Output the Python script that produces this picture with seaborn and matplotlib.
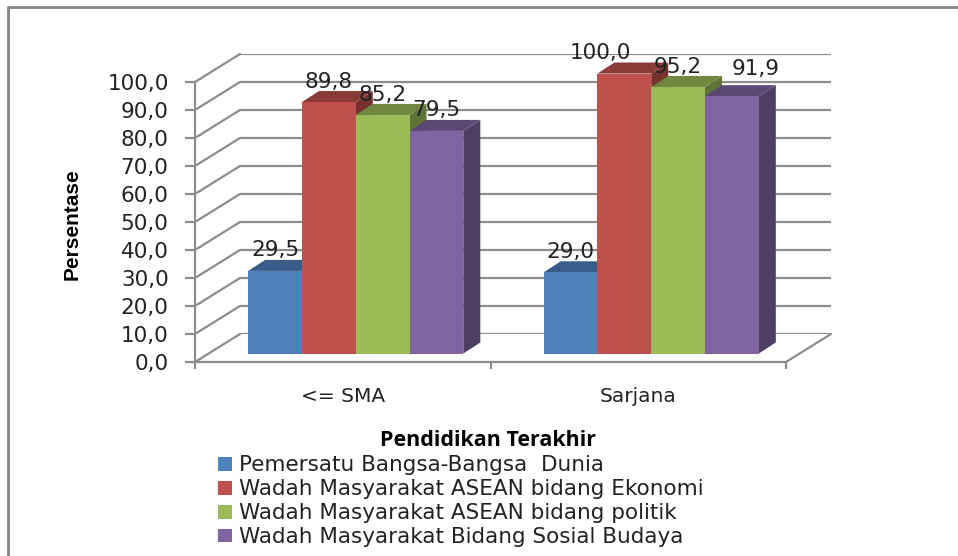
# Persepsi ASEAN menurut pendidikan terakhir - grouped bars with a 3D look

import pandas as pd
import seaborn as sns
import matplotlib.pyplot as plt
from matplotlib.colors import to_rgb
from matplotlib.lines import Line2D
from matplotlib.patches import Polygon

categories = ["<= SMA", "Sarjana"]
series = [
    "Pemersatu Bangsa-Bangsa  Dunia",
    "Wadah Masyarakat ASEAN bidang Ekonomi",
    "Wadah Masyarakat ASEAN bidang politik",
    "Wadah Masyarakat Bidang Sosial Budaya",
]
sma_values = [29.5, 89.8, 85.2, 79.5]
sarjana_values = [29.0, 100.0, 95.2, 91.9]
y_ticks = [0, 10, 20, 30, 40, 50, 60, 70, 80, 90, 100]
colors = ["#4F81BD", "#C0504D", "#9BBB59", "#8064A2"]

GREY = "#8C8C8C"
W, H = 958, 556

rows = []
for cat, vals in zip(categories, [sma_values, sarjana_values]):
    for name, v in zip(series, vals):
        rows.append({"pendidikan": cat, "kelompok": name, "persen": v})
df = pd.DataFrame(rows)

sns.set_style("white")
plt.rcParams["font.family"] = ["DejaVu Sans"]

fig = plt.figure(figsize=(W / 100, H / 100), dpi=100, facecolor="white")


def plane(shift_x, shift_y):
    # same sized axes moved back along the depth of the chart
    a = fig.add_axes([(195 + shift_x) / W, (H - 362 + shift_y) / H, 591 / W, 280 / H])
    a.set_xlim(-0.5, 1.5)
    a.set_ylim(0, 100)
    a.patch.set_alpha(0)
    return a


wall = plane(45, 28)
ax = plane(0, 0)
bars = plane(13, 8.5)

# back wall
wall.set_yticks(y_ticks)
wall.set_xticks([])
wall.tick_params(left=False, labelleft=False)
wall.grid(axis="y", color=GREY, linewidth=1.6)
wall.grid(axis="x", visible=False)
sns.despine(ax=wall, left=True, bottom=True)

# front axes with ticks
ax.set_xticks([-0.5, 0.5, 1.5], labels=["", "", ""])
ax.set_xticks([0, 1], labels=categories, minor=True)
ax.set_yticks(y_ticks, labels=[f"{t:.1f}".replace(".", ",") for t in y_ticks])
ax.tick_params(axis="y", length=7, width=1.6, color=GREY, pad=12, labelsize=15.5, labelcolor="#222222", left=True)
ax.tick_params(axis="x", which="major", length=5, width=1.6, color=GREY, bottom=True)
ax.tick_params(axis="x", which="minor", length=0, pad=18, labelsize=14.5, labelcolor="#222222")
sns.despine(ax=ax)
for s in ["left", "bottom"]:
    ax.spines[s].set_color(GREY)
    ax.spines[s].set_linewidth(1.6)
ax.set_ylabel("Persentase", fontsize=15, family="Liberation Sans", fontweight="bold", color="black")
ax.yaxis.set_label_coords((82 - 195) / 591, (362 - 224) / 280, transform=ax.transAxes)
ax.set_xlabel("Pendidikan Terakhir", fontsize=15.5, fontweight="bold", family="Open Sans", color="black")
ax.xaxis.set_label_coords((488 - 195) / 591, (362 - 440) / 280, transform=ax.transAxes)
ax.xaxis.label.set_verticalalignment("center")

# slanted lines joining front axis and back wall
to_fig = fig.transFigure.inverted()


def depth_line(x, y):
    p0 = to_fig.transform(ax.transData.transform((x, y)))
    p1 = to_fig.transform(wall.transData.transform((x, y)))
    fig.add_artist(Line2D([p0[0], p1[0]], [p0[1], p1[1]], color=GREY, linewidth=1.6, zorder=0.5))


for t in y_ticks:
    depth_line(-0.5, t)
depth_line(1.5, 0)

# bars
sns.barplot(data=df, x="pendidikan", y="persen", hue="kelompok", order=categories, hue_order=series,
            palette=colors, saturation=1, width=0.728, gap=0, linewidth=0, edgecolor="none", ax=bars)
handles, labels = bars.get_legend_handles_labels()
bars.legend_.remove()
bars.set_xlim(-0.5, 1.5)
bars.set_ylim(0, 100)
bars.axis("off")

# depth of the bars, in data units
dx = 17 / 295.5
dy = 11 / 2.8


def darker(color, f):
    return tuple(c * f for c in to_rgb(color))


order = 3
for cont, color in zip(bars.containers, colors):
    for p in cont:
        x0, x1, h = p.get_x(), p.get_x() + p.get_width(), p.get_height()
        side = Polygon([(x1, 0), (x1 + dx, dy), (x1 + dx, h + dy), (x1, h)], closed=True,
                       facecolor=darker(color, 0.62), edgecolor="none", clip_on=False, zorder=order)
        top = Polygon([(x0, h), (x1, h), (x1 + dx, h + dy), (x0 + dx, h + dy)], closed=True,
                      facecolor=darker(color, 0.72), edgecolor="none", clip_on=False, zorder=order + 0.1)
        bars.add_patch(side)
        bars.add_patch(top)
        p.set_zorder(order + 0.2)
        p.set_clip_on(False)
    order += 1

# value labels
value_labels = []
for cont in bars.containers:
    txt = [f"{b.get_height():.1f}".replace(".", ",") for b in cont]
    anns = bars.bar_label(cont, labels=txt, padding=7.5, fontsize=15.5, color="#222222", zorder=20)
    for a in anns:
        a.set_clip_on(False)
    value_labels.append(anns)
# 100,0 and 91,9 were moved by hand in the original
value_labels[1][1].xyann = (-17, 7.5)
value_labels[3][1].xyann = (17, 12.5)

fig.legend(handles, labels, loc="upper left", bbox_to_anchor=(212 / W, 1 - 449 / H), frameon=False,
           fontsize=15.5, handlelength=0.62, handleheight=0.62, handletextpad=0.35, labelspacing=0.18,
           borderpad=0.3, borderaxespad=0, labelcolor="#222222")

# outer frame, only left and top are in the picture
fig.add_artist(Line2D([8 / W, 8 / W, 1], [0, 1 - 7 / H, 1 - 7 / H], color="#858585", linewidth=2))

plt.savefig("out.png", dpi=100)
